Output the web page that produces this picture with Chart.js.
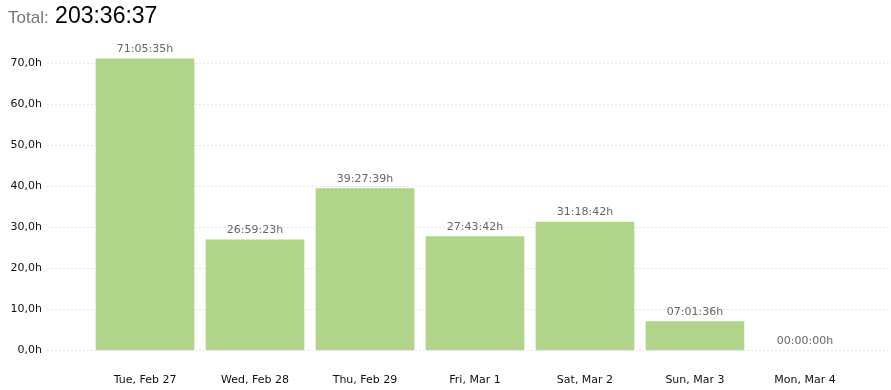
<!DOCTYPE html>
<html>
<head>
<meta charset="utf-8">
<script src="https://cdn.jsdelivr.net/npm/chart.js"></script>
<style>
  html, body { margin: 0; padding: 0; background: #fff; }
  #wrap { position: relative; width: 891px; height: 390px; }
  #total { position: absolute; left: 8px; top: 2px; font-family: "Liberation Sans", Arial, sans-serif; white-space: nowrap; }
  #total .lbl { font-size: 17px; color: #777; }
  #total .val { font-size: 23px; color: #000; margin-left: 2px; }
  canvas { position: absolute; left: 0; top: 0; }
</style>
</head>
<body>
<div id="wrap">
  <canvas id="chart" width="891" height="390"></canvas>
  <div id="total"><span class="lbl">Total:</span> <span class="val">203:36:37</span></div>
</div>
<script>
// Daily tracked time

const days = ["Tue, Feb 27", "Wed, Feb 28", "Thu, Feb 29", "Fri, Mar 1", "Sat, Mar 2", "Sun, Mar 3", "Mon, Mar 4"];
const durations = ["71:05:35h", "26:59:23h", "39:27:39h", "27:43:42h", "31:18:42h", "07:01:36h", "00:00:00h"];
const hours = [71.093, 26.990, 39.461, 27.728, 31.312, 7.027, 0];
const yTicks = [0, 10, 20, 30, 40, 50, 60, 70];

const barColor = "#afd48a";

// value labels on top of the bars
const durationLabels = {
  id: "durationLabels",
  afterDatasetsDraw(chart) {
    const ctx = chart.ctx;
    const meta = chart.getDatasetMeta(0);
    ctx.save();
    ctx.font = "11px 'DejaVu Sans'";
    ctx.fillStyle = "#666";
    ctx.textAlign = "center";
    ctx.textBaseline = "bottom";
    meta.data.forEach((bar, i) => {
      ctx.fillText(durations[i], bar.x, bar.y - 4);
    });
    ctx.restore();
  }
};

new Chart(document.getElementById("chart"), {
  type: "bar",
  data: {
    datasets: [{
      data: hours.map((h, i) => ({ x: i, y: h })),
      backgroundColor: c => (c.raw && c.raw.y > 0 ? barColor : "rgba(0,0,0,0)"),
      borderWidth: 0,
      barThickness: 98
    }]
  },
  options: {
    responsive: false,
    animation: false,
    layout: { padding: { top: 55, right: 2, left: 0, bottom: 0 } },
    plugins: { legend: { display: false }, tooltip: { enabled: false } },
    scales: {
      x: {
        type: "linear",
        bounds: "data",
        offset: false,
        min: -0.891,
        max: 6.764,
        grid: { display: false },
        border: { display: false },
        afterBuildTicks: axis => {
          axis.ticks = days.map((d, i) => ({ value: i }));
        },
        afterFit: axis => { axis.height = 39.5; },
        ticks: {
          autoSkip: false,
          maxRotation: 0,
          padding: 15,
          color: "#111",
          font: { family: "DejaVu Sans", size: 11 },
          callback: v => days[v]
        }
      },
      y: {
        bounds: "data",
        min: 0,
        max: 72,
        afterBuildTicks: axis => {
          axis.ticks = yTicks.map(v => ({ value: v }));
        },
        afterFit: axis => { axis.width = 47; },
        grid: { color: "#e6e6e6", drawTicks: false, lineWidth: 1 },
        border: { display: false, dash: [2, 2] },
        ticks: {
          padding: 5,
          color: "#111",
          font: { family: "DejaVu Sans", size: 11 },
          callback: v => v.toFixed(1).replace(".", ",") + "h"
        }
      }
    }
  },
  plugins: [durationLabels]
});
</script>
</body>
</html>
